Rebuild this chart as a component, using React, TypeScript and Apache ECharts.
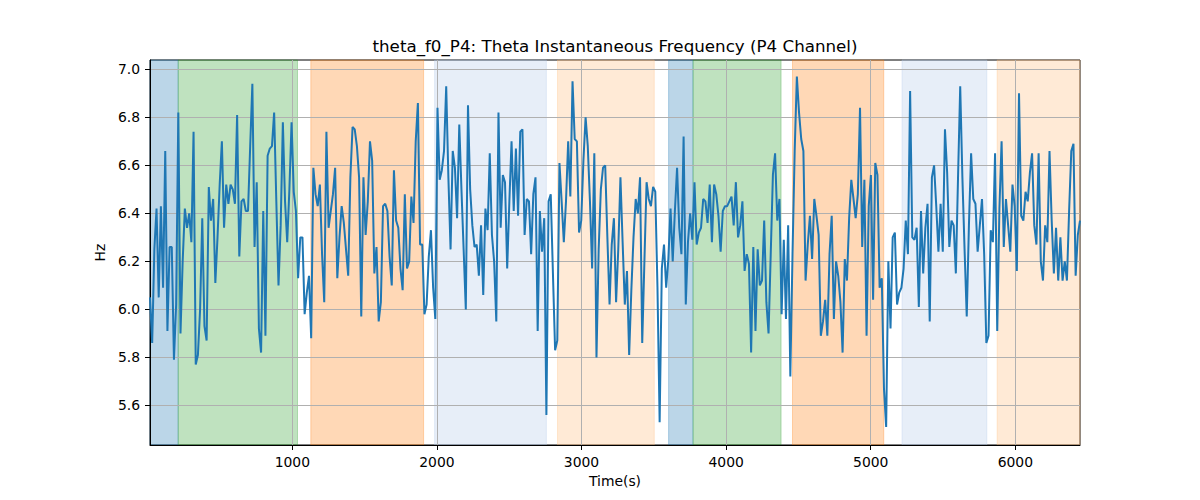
import React, { useEffect, useRef } from "react";
import * as echarts from "echarts";

const chartTitle = "theta_f0_P4: Theta Instantaneous Frequency (P4 Channel)";
const xName = "Time(s)";
const yName = "Hz";

// first and last sample time (s); samples are evenly spaced in between
const sampleStart = 16;
const sampleEnd = 6447;

// theta instantaneous frequency (Hz), one value per sample
const thetaFreq = [
  6.05, 5.86, 6.25, 6.42, 6.05, 6.43, 6.09, 6.66, 5.91, 6.26,
  6.26, 5.79, 6.02, 6.82, 5.90, 6.20, 6.42, 6.34, 6.40, 6.28,
  6.74, 5.77, 5.81, 6.00, 6.38, 5.93, 5.87, 6.51, 6.37, 6.46,
  6.11, 6.30, 6.52, 6.70, 6.34, 6.52, 6.44, 6.52, 6.50, 6.44,
  6.81, 6.22, 6.45, 6.46, 6.41, 6.41, 6.68, 6.94, 6.26, 6.53,
  5.92, 5.82, 6.41, 5.89, 6.64, 6.67, 6.68, 6.82, 6.45, 6.10,
  6.35, 6.78, 6.45, 6.28, 6.50, 6.78, 6.49, 6.41, 6.13, 6.30,
  6.30, 5.98, 6.07, 6.14, 5.88, 6.59, 6.48, 6.43, 6.52, 6.23,
  6.03, 6.74, 6.34, 6.41, 6.48, 6.59, 6.13, 6.30, 6.43, 6.36,
  6.25, 6.14, 6.55, 6.76, 6.75, 6.68, 6.55, 5.97, 6.55, 6.31,
  6.45, 6.70, 6.62, 6.15, 6.26, 5.95, 6.03, 6.43, 6.44, 6.41,
  6.22, 6.10, 6.58, 6.37, 6.34, 6.17, 6.08, 6.48, 6.17, 6.20,
  6.47, 6.36, 6.70, 6.86, 6.27, 6.27, 5.98, 6.02, 6.22, 6.33,
  6.09, 5.96, 6.84, 6.54, 6.58, 6.66, 6.93, 6.55, 6.25, 6.66,
  6.59, 6.38, 6.77, 6.50, 6.25, 6.00, 6.85, 6.50, 6.35, 6.26,
  6.27, 6.14, 6.35, 6.06, 6.42, 6.33, 6.65, 6.31, 6.20, 5.95,
  6.82, 6.34, 6.56, 6.53, 6.17, 6.45, 6.70, 6.41, 6.67, 6.39,
  6.74, 6.75, 6.31, 6.46, 6.45, 6.23, 6.48, 6.55, 5.91, 6.41,
  6.24, 6.38, 5.56, 6.45, 6.48, 6.15, 5.83, 5.87, 6.61, 6.45,
  6.28, 6.45, 6.70, 6.47, 6.95, 6.71, 6.70, 6.32, 6.37, 6.62,
  6.80, 6.68, 6.45, 6.17, 6.65, 5.80, 6.25, 6.50, 6.59, 6.60,
  6.30, 6.02, 6.27, 6.38, 6.03, 6.25, 6.55, 6.28, 6.02, 6.16,
  5.81, 6.08, 6.30, 6.46, 6.40, 6.55, 5.86, 6.20, 6.53, 6.46,
  6.43, 6.51, 6.49, 6.09, 5.53, 6.17, 6.27, 6.09, 6.21, 6.42,
  6.20, 6.41, 6.59, 6.34, 6.23, 6.72, 6.02, 6.28, 6.40, 6.29,
  6.53, 6.27, 6.32, 6.34, 6.46, 6.45, 6.36, 6.52, 6.28, 6.52,
  6.48, 6.39, 6.24, 6.41, 6.43, 6.43, 6.45, 6.47, 6.35, 6.53,
  6.30, 6.35, 6.45, 6.16, 6.23, 6.19, 5.82, 6.26, 5.91, 6.25,
  6.10, 6.12, 6.37, 6.03, 5.90, 6.23, 6.56, 6.65, 6.37, 6.46,
  5.98, 6.29, 5.96, 6.35, 5.72, 6.23, 6.66, 6.97, 6.82, 6.71,
  6.66, 6.12, 6.27, 6.39, 6.21, 6.46, 6.39, 6.31, 5.89, 5.95,
  6.04, 5.89, 6.23, 6.39, 5.96, 6.20, 6.14, 6.03, 5.82, 6.21,
  6.12, 6.38, 6.54, 6.46, 6.38, 6.48, 6.84, 6.26, 6.54, 5.89,
  6.43, 6.56, 6.04, 6.61, 6.56, 6.09, 6.13, 5.67, 5.51, 6.20,
  5.92, 6.30, 6.32, 6.02, 6.07, 6.09, 6.17, 6.37, 6.23, 6.91,
  6.30, 6.29, 6.34, 6.01, 6.41, 6.15, 6.34, 6.44, 5.95, 6.55,
  6.60, 6.43, 6.24, 6.44, 6.24, 6.75, 6.57, 6.26, 6.37, 6.35,
  6.15, 6.55, 6.93, 6.55, 6.25, 5.97, 6.35, 6.65, 6.46, 6.44,
  6.24, 6.35, 6.46, 6.23, 5.86, 5.89, 6.33, 6.28, 6.65, 5.91,
  6.42, 6.70, 6.26, 6.46, 6.35, 6.24, 6.52, 6.43, 6.16, 6.90,
  6.39, 6.37, 6.49, 6.45, 6.57, 6.65, 6.35, 6.27, 6.65, 6.20,
  6.12, 6.35, 6.28, 6.66, 6.37, 6.15, 6.34, 6.12, 6.30, 6.12,
  6.20, 6.12, 6.41, 6.66, 6.69, 6.14, 6.31, 6.37,
];

const xTicks = [1000, 2000, 3000, 4000, 5000, 6000];
const yTicks = [5.6, 5.8, 6.0, 6.2, 6.4, 6.6, 6.8, 7.0];
const yMin = 5.435;
const yMax = 7.039;

// shaded segments (s) and which colour each one uses
const bandStarts = [16, 211, 1128, 1984, 2834, 3602, 3771, 4459, 5216, 5874];
const bandEnds = [211, 1036, 1908, 2757, 3503, 3771, 4380, 5090, 5803, 6447];
const bandKinds = [0, 1, 2, 3, 4, 0, 1, 2, 3, 4];
const bandColors = [
  "rgba(31,119,180,0.3)",
  "rgba(44,160,44,0.3)",
  "rgba(255,127,14,0.3)",
  "rgba(174,199,232,0.3)",
  "rgba(255,187,120,0.3)",
];

const FONT = "DejaVu Sans";

const App: React.FC = () => {
  const chartRef = useRef<HTMLDivElement>(null);

  useEffect(() => {
    if (!chartRef.current) return;
    const chart = echarts.init(chartRef.current, undefined, { renderer: "svg" });

    const step = (sampleEnd - sampleStart) / (thetaFreq.length - 1);
    const points = thetaFreq.map((v, i) => [sampleStart + i * step, v]);

    const bands = bandStarts.map((s, i) => {
      const c = bandColors[bandKinds[i]];
      return [
        { xAxis: s, itemStyle: { color: c, borderColor: c, borderWidth: 1 } },
        { xAxis: bandEnds[i] },
      ];
    });

    const tickLabel = { fontFamily: FONT, fontSize: 13.9, color: "#000" };

    chart.setOption({
      animation: false,
      grid: {
        left: 150,
        right: 120,
        top: 60,
        bottom: 55,
        show: true,
        borderColor: "#000",
        borderWidth: 1,
        backgroundColor: "transparent",
      },
      graphic: [
        {
          type: "text",
          x: 615,
          y: 46,
          style: {
            text: chartTitle,
            fontFamily: FONT,
            fontSize: 16.7,
            fill: "#000",
            align: "center",
            verticalAlign: "middle",
          },
        },
      ],
      xAxis: {
        type: "value",
        min: sampleStart,
        max: sampleEnd,
        z: 2,
        name: xName,
        nameLocation: "middle",
        nameGap: 28,
        nameTextStyle: { fontFamily: FONT, fontSize: 13.9, color: "#000" },
        axisLine: { show: true, lineStyle: { color: "#000", width: 1 } },
        axisTick: { show: true, length: 5, lineStyle: { color: "#000" }, customValues: xTicks },
        axisLabel: {
          ...tickLabel,
          margin: 10,
          customValues: xTicks,
          formatter: (v: number) => String(Math.round(v)),
        },
        splitLine: { show: true, lineStyle: { color: "#b0b0b0", width: 1 } },
      },
      yAxis: {
        type: "value",
        min: yMin,
        max: yMax,
        z: 2,
        name: yName,
        nameLocation: "middle",
        nameGap: 35,
        nameTextStyle: { fontFamily: FONT, fontSize: 13.9, color: "#000" },
        axisLine: { show: true, lineStyle: { color: "#000", width: 1 } },
        axisTick: { show: true, length: 5, lineStyle: { color: "#000" }, customValues: yTicks },
        axisLabel: {
          ...tickLabel,
          margin: 10,
          customValues: yTicks,
          formatter: (v: number) => v.toFixed(1),
        },
        splitLine: { show: true, lineStyle: { color: "#b0b0b0", width: 1 } },
      },
      series: [
        {
          type: "line",
          z: 1,
          data: [],
          silent: true,
          markArea: { silent: true, data: bands },
        },
        {
          type: "line",
          z: 3,
          data: points,
          showSymbol: false,
          symbol: "none",
          lineStyle: { color: "#1f77b4", width: 2 },
        },
      ],
    });

    return () => {
      chart.dispose();
    };
  }, []);

  return (
    <div style={{ position: "fixed", left: 0, top: 0, width: 1200, height: 500, background: "#fff" }}>
      <div ref={chartRef} style={{ width: "100%", height: "100%" }} />
    </div>
  );
};

export default App;
